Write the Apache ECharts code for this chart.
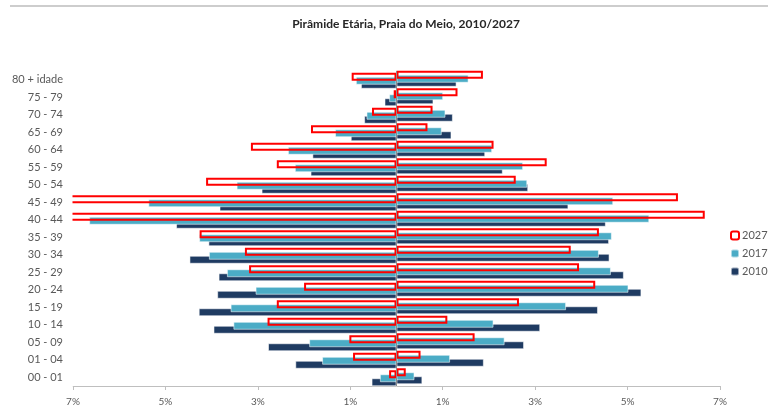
<!DOCTYPE html>
<html>
<head>
<meta charset="utf-8">
<title>Pirâmide Etária, Praia do Meio, 2010/2027</title>
<script src="https://cdn.jsdelivr.net/npm/echarts@6.0.0/dist/echarts.min.js"></script>
<style>
html, body { margin: 0; padding: 0; background: #fff; }
#chart { width: 768px; height: 414px; }
</style>
</head>
<body>
<div id="chart"></div>
<script>
// faixas etárias, de baixo para cima
var ageGroups = ['00 - 01', '01 - 04', '05 - 09', '10 - 14', '15 - 19', '20 - 24', '25 - 29', '30 - 34', '35 - 39',
    '40 - 44', '45 - 49', '50 - 54', '55 - 59', '60 - 64', '65 - 69', '70 - 74', '75 - 79', '80 + idade'];

// % da população, lado esquerdo do gráfico
var left2010 = [0.54, 2.19, 2.78, 3.96, 4.28, 3.88, 3.85, 4.48, 4.07, 4.77, 3.83, 2.92, 1.86, 1.82, 0.99, 0.70, 0.26, 0.77];
var left2017 = [0.36, 1.61, 1.89, 3.53, 3.59, 3.05, 3.67, 4.06, 4.27, 6.65, 5.37, 3.46, 2.20, 2.35, 1.33, 0.65, 0.16, 0.88];
var left2027 = [0.16, 0.94, 1.02, 2.79, 2.59, 2.00, 3.19, 3.28, 4.26, 7.40, 7.60, 4.12, 2.59, 3.15, 1.85, 0.53, 0.06, 0.97];

// % da população, lado direito do gráfico
var right2010 = [0.56, 1.89, 2.76, 3.11, 4.36, 5.30, 4.92, 4.61, 4.60, 4.53, 3.72, 2.85, 2.30, 1.92, 1.19, 1.22, 0.80, 1.30];
var right2017 = [0.39, 1.16, 2.34, 2.10, 3.67, 5.02, 4.64, 4.38, 4.66, 5.47, 4.69, 2.83, 2.74, 2.07, 0.98, 1.06, 1.01, 1.56];
var right2027 = [0.20, 0.52, 1.69, 1.10, 2.65, 4.30, 3.95, 3.77, 4.38, 6.67, 6.09, 2.58, 3.25, 2.10, 0.67, 0.78, 1.32, 1.87];

var tickValues = [-7, -5, -3, -1, 1, 3, 5, 7];
var legendYears = ['2027', '2017', '2010'];

var fontName = 'Lato, "Open Sans", sans-serif';
var yearColors = { '2010': '#1f3b62', '2017': '#4bacc6', '2027': '#ff0000' };

function negate(arr) {
    return arr.map(function (v) { return -v; });
}

function makeSeries(year, data, z) {
    var style;
    if (year === '2027') {
        // 2027 só com contorno
        style = { color: 'rgba(0,0,0,0)', borderColor: yearColors[year], borderWidth: 2 };
    } else {
        style = { color: yearColors[year], borderColor: 'rgba(255,255,255,0.55)', borderWidth: 1 };
    }
    return {
        name: year,
        type: 'bar',
        data: data,
        z: z,
        barWidth: 8,
        barGap: '-75%',
        itemStyle: style,
        emphasis: { disabled: true }
    };
}

var chart = echarts.init(document.getElementById('chart'), null, { renderer: 'canvas' });

var series = [
    makeSeries('2027', right2027, 4),
    makeSeries('2027', negate(left2027), 4),
    makeSeries('2017', right2017, 3),
    makeSeries('2017', negate(left2017), 3),
    makeSeries('2010', right2010, 2),
    makeSeries('2010', negate(left2010), 2)
];
// barras que passam de 7% ficam abertas na borda (como no Excel)
series[1].clip = false;
// linha vertical no zero
series[5].markLine = {
    silent: true,
    symbol: 'none',
    label: { show: false },
    lineStyle: { color: '#8c8c8c', width: 1, type: 'solid' },
    data: [{ xAxis: 0 }]
};

var option = {
    animation: false,
    textStyle: { fontFamily: fontName },
    title: {
        text: 'Pirâmide Etária, Praia do Meio, 2010/2027',
        left: 401,
        textAlign: 'center',
        top: 13,
        textStyle: { fontFamily: fontName, fontSize: 12, fontWeight: 'bold', color: '#262626' }
    },
    legend: {
        data: legendYears,
        orient: 'vertical',
        left: 725,
        top: 225,
        itemWidth: 8,
        itemHeight: 8,
        itemGap: 7,
        selectedMode: false,
        textStyle: { fontFamily: fontName, fontSize: 11, color: '#595959', padding: [0, 0, 0, -2] }
    },
    grid: { left: 73, right: 48, top: 71, bottom: 28, containLabel: false },
    xAxis: {
        type: 'value',
        min: -7,
        max: 7,
        splitLine: { show: false },
        axisLine: { show: true, lineStyle: { color: '#bfbfbf', width: 1 } },
        axisTick: { show: true, length: 4, customValues: tickValues, lineStyle: { color: '#bfbfbf' } },
        axisLabel: {
            customValues: tickValues,
            margin: 11,
            fontSize: 10,
            color: '#595959',
            fontFamily: fontName,
            formatter: function (v) { return Math.abs(v) + '%'; }
        }
    },
    yAxis: {
        type: 'category',
        data: ageGroups,
        z: 10,
        axisLine: { show: false },
        axisTick: { show: false },
        axisLabel: { margin: 10, fontSize: 11, color: '#595959', fontFamily: fontName }
    },
    graphic: [{
        type: 'line',
        shape: { x1: 10, y1: 6, x2: 768, y2: 6 },
        style: { stroke: '#bdbdbd', lineWidth: 1.5 },
        silent: true
    }, {
        // máscara branca à esquerda do eixo
        type: 'rect',
        shape: { x: 0, y: 60, width: 72.5, height: 330 },
        style: { fill: '#fff' },
        z: 6,
        silent: true
    }],
    series: series
};

chart.setOption(option);
</script>
</body>
</html>
